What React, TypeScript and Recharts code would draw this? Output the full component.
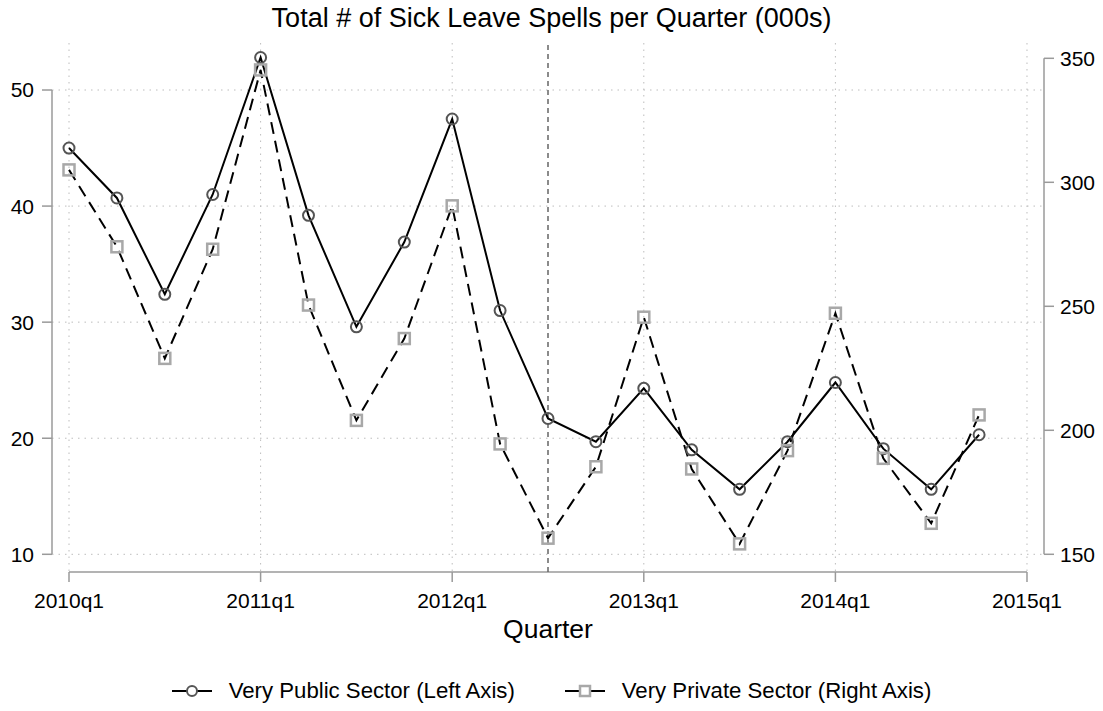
import { LineChart, Line, XAxis, YAxis, CartesianGrid, ReferenceLine } from 'recharts';

const quarters = [
  '2010q1', '2010q2', '2010q3', '2010q4',
  '2011q1', '2011q2', '2011q3', '2011q4',
  '2012q1', '2012q2', '2012q3', '2012q4',
  '2013q1', '2013q2', '2013q3', '2013q4',
  '2014q1', '2014q2', '2014q3', '2014q4',
];

// left axis, thousands
const publicSector = [
  45.0, 40.7, 32.4, 41.0, 52.8, 39.2, 29.6, 36.9, 47.5, 31.0,
  21.7, 19.7, 24.3, 19.0, 15.6, 19.7, 24.8, 19.1, 15.6, 20.3,
];

// right axis, thousands
const privateSector = [
  305.0, 274.0, 229.0, 273.0, 345.3, 250.5, 204.0, 237.0, 290.5, 194.5,
  156.5, 185.3, 245.6, 184.4, 154.2, 191.8, 247.2, 188.7, 162.5, 206.2,
];

const xTicks = [0, 4, 8, 12, 16, 20];
const xTickLabels = ['2010q1', '2011q1', '2012q1', '2013q1', '2014q1', '2015q1'];
const leftTicks = [10, 20, 30, 40, 50];
const rightTicks = [150, 200, 250, 300, 350];
const reformQuarter = 10; // 2012q3

const X_DOMAIN: [number, number] = [-0.355, 20.355];
const LEFT_DOMAIN: [number, number] = [8.475, 54.05];
const RIGHT_DOMAIN: [number, number] = [142.86, 356.17];

const data = quarters.map((q, i) => ({
  t: i,
  quarter: q,
  pub: publicSector[i],
  priv: privateSector[i],
}));

const FONT = '"Liberation Sans", Arial, Helvetica, sans-serif';
const AXIS_GRAY = '#9a9a9a';

const CircleDot = (props: any) => {
  const { cx, cy, index } = props;
  if (cx == null || cy == null) return null;
  return <circle key={`c${index}`} cx={cx} cy={cy} r={5.5} fill="none" stroke="#555" strokeWidth={2} />;
};

const SquareDot = (props: any) => {
  const { cx, cy, index } = props;
  if (cx == null || cy == null) return null;
  return (
    <rect key={`s${index}`} x={cx - 5.5} y={cy - 5.5} width={11} height={11} fill="none" stroke="#a8a8a8" strokeWidth={2.5} />
  );
};

function LegendItem({ kind, label }: { kind: 'circle' | 'square'; label: string }) {
  return (
    <div style={{ display: 'flex', alignItems: 'center' }}>
      <svg width={40} height={14} style={{ marginRight: 17 }}>
        <line x1={0} y1={7} x2={40} y2={7} stroke="#000" strokeWidth={2} />
        {kind === 'circle' ? (
          <circle cx={20} cy={7} r={5} fill="#fff" stroke="#555" strokeWidth={2} />
        ) : (
          <rect x={15} y={2} width={10} height={10} fill="#fff" stroke="#a8a8a8" strokeWidth={2.5} />
        )}
      </svg>
      <span>{label}</span>
    </div>
  );
}

export default function App() {
  return (
    <div style={{ position: 'absolute', left: 0, top: 0, width: 1103, height: 711, background: '#fff', fontFamily: FONT }}>
      <div
        style={{
          position: 'absolute', top: 5, left: 0, width: 1103, textAlign: 'center',
          fontSize: 27, lineHeight: 1, color: '#000',
        }}
      >
        Total # of Sick Leave Spells per Quarter (000s)
      </div>
      <LineChart
        width={1103}
        height={711}
        data={data}
        margin={{ top: 43, right: 0, bottom: 0, left: 0 }}
        style={{ fontFamily: FONT }}
      >
        <CartesianGrid
          yAxisId="left"
          stroke="#bdbdbd"
          strokeDasharray="1.5 5"
          horizontalValues={leftTicks}
          verticalValues={xTicks}
        />
        <XAxis
          type="number"
          dataKey="t"
          domain={X_DOMAIN}
          allowDataOverflow
          ticks={xTicks}
          tickFormatter={(v: number) => xTickLabels[xTicks.indexOf(v)] ?? ''}
          axisLine={false}
          tickLine={{ stroke: AXIS_GRAY, strokeWidth: 1.5 }}
          tickSize={10}
          tickMargin={11}
          height={139}
          tick={{ fill: '#000', fontSize: 21 }}
          label={{ value: 'Quarter', position: 'insideTop', offset: 47, fill: '#000', fontSize: 26.5 }}
        />
        <YAxis
          yAxisId="left"
          orientation="left"
          domain={LEFT_DOMAIN}
          allowDataOverflow
          ticks={leftTicks}
          width={52}
          axisLine={false}
          tickLine={{ stroke: AXIS_GRAY, strokeWidth: 1.5 }}
          tickSize={10}
          tickMargin={8}
          tick={{ fill: '#000', fontSize: 21 }}
        />
        <YAxis
          yAxisId="right"
          orientation="right"
          domain={RIGHT_DOMAIN}
          allowDataOverflow
          ticks={rightTicks}
          width={59}
          axisLine={false}
          tickLine={{ stroke: AXIS_GRAY, strokeWidth: 1.5 }}
          tickSize={10}
          tickMargin={6}
          tick={{ fill: '#000', fontSize: 21, textAnchor: 'start' }}
        />
        {/* axis lines only span the tick range, as in Stata */}
        <ReferenceLine
          yAxisId="left"
          ifOverflow="visible"
          segment={[{ x: X_DOMAIN[0], y: leftTicks[0] }, { x: X_DOMAIN[0], y: leftTicks[leftTicks.length - 1] }]}
          stroke={AXIS_GRAY}
          strokeWidth={1.5}
        />
        <ReferenceLine
          yAxisId="right"
          ifOverflow="visible"
          segment={[{ x: X_DOMAIN[1], y: rightTicks[0] }, { x: X_DOMAIN[1], y: rightTicks[rightTicks.length - 1] }]}
          stroke={AXIS_GRAY}
          strokeWidth={1.5}
        />
        <ReferenceLine
          yAxisId="left"
          ifOverflow="visible"
          segment={[{ x: xTicks[0], y: LEFT_DOMAIN[0] }, { x: xTicks[xTicks.length - 1], y: LEFT_DOMAIN[0] }]}
          stroke={AXIS_GRAY}
          strokeWidth={1.5}
        />
        <ReferenceLine
          yAxisId="left"
          x={reformQuarter}
          stroke="#666"
          strokeWidth={1.5}
          strokeDasharray="5 4"
        />
        <Line
          yAxisId="left"
          type="linear"
          dataKey="pub"
          stroke="#000"
          strokeWidth={2}
          dot={CircleDot}
          activeDot={false}
          isAnimationActive={false}
        />
        <Line
          yAxisId="right"
          type="linear"
          dataKey="priv"
          stroke="#000"
          strokeWidth={2}
          strokeDasharray="12 7"
          dot={SquareDot}
          activeDot={false}
          isAnimationActive={false}
        />
      </LineChart>
      <div
        style={{
          position: 'absolute', top: 680, left: 0, width: 1103, display: 'flex',
          justifyContent: 'center', gap: 50, fontSize: 22.2, lineHeight: 1, color: '#000',
        }}
      >
        <LegendItem kind="circle" label="Very Public Sector (Left Axis)" />
        <LegendItem kind="square" label="Very Private Sector (Right Axis)" />
      </div>
    </div>
  );
}
